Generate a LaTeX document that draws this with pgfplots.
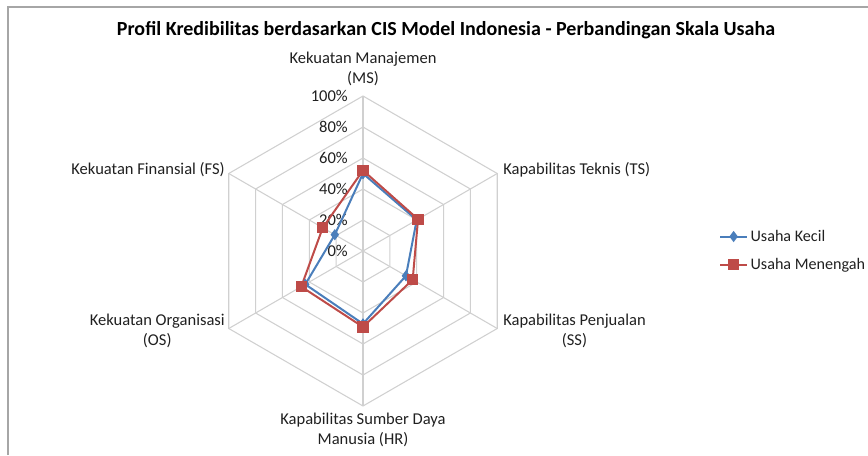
\documentclass[border=0pt]{standalone}
\usepackage{pgfplots}
\pgfplotsset{compat=1.18}
\usepackage{pgfplotstable}
\usepackage{fontspec}
\setmainfont{Carlito}
\definecolor{kecil}{HTML}{4A7EBB}
\definecolor{menengah}{HTML}{BE4B48}
\definecolor{gridc}{HTML}{D0D0D0}
\definecolor{framec}{HTML}{A6A6A6}
\definecolor{txt}{HTML}{202020}

% angle (deg), value (%)
\pgfplotstableread{
a r
90 50
30 40
-30 32
-90 47
-150 43
150 21
90 50
}\kecil
\pgfplotstableread{
a r
90 52
30 41
-30 37
-90 49
-150 46
150 30
90 52
}\menengah

\newcommand{\lbl}{\fontsize{12.4}{14.4}\selectfont}
\begin{document}
\begin{tikzpicture}
\begin{axis}[
  width=651pt, height=341.25pt, scale only axis,
  xmin=0, xmax=868, ymin=0, ymax=455,
  hide axis, clip=false,
  legend style={at={(axis cs:719,228)}, anchor=north west, draw=none, fill=none,
    inner sep=0pt, font=\fontsize{12.1}{14}\selectfont, text=txt, row sep=7.3pt,
    /tikz/every even column/.append style={column sep=2pt}},
  legend cell align=left,
  legend image code/.code={\draw[mark repeat=2,mark phase=2] plot coordinates {(0pt,0pt)(10pt,0pt)(20pt,0pt)};},
]
% frame (cropped at right and bottom)
\draw[framec, line width=1pt] (axis cs:8,0) -- (axis cs:8,448) -- (axis cs:868,448);
% hexagonal grid
\pgfplotsinvokeforeach{20,40,60,80,100}{
  \draw[gridc, line width=0.8pt]
    (axis cs:{363+1.55*#1*cos(90)},{204+1.55*#1*sin(90)}) --
    (axis cs:{363+1.55*#1*cos(30)},{204+1.55*#1*sin(30)}) --
    (axis cs:{363+1.55*#1*cos(-30)},{204+1.55*#1*sin(-30)}) --
    (axis cs:{363+1.55*#1*cos(-90)},{204+1.55*#1*sin(-90)}) --
    (axis cs:{363+1.55*#1*cos(-150)},{204+1.55*#1*sin(-150)}) --
    (axis cs:{363+1.55*#1*cos(150)},{204+1.55*#1*sin(150)}) -- cycle;
}
\pgfplotsinvokeforeach{90,30,-30,-90,-150,150}{
  \draw[gridc, line width=0.8pt] (axis cs:363,204) -- (axis cs:{363+155*cos(#1)},{204+155*sin(#1)});
}
% tick labels
\pgfplotsinvokeforeach{0,20,40,60,80,100}{
  \node[anchor=east, inner sep=0pt, font=\lbl, text=txt] at (axis cs:348,{204+1.55*#1}) {#1\%};
}
% category labels
\node[align=center, font=\lbl, text=txt, inner sep=0pt] at (axis cs:363,386) {Kekuatan Manajemen\\(MS)};
\node[anchor=west, font=\lbl, text=txt, inner sep=0pt] at (axis cs:503,285) {Kapabilitas Teknis (TS)};
\node[anchor=west, align=center, font=\lbl, text=txt, inner sep=0pt] at (axis cs:503,124) {Kapabilitas Penjualan\\(SS)};
\node[align=center, font=\lbl, text=txt, inner sep=0pt] at (axis cs:363,25) {Kapabilitas Sumber Daya\\Manusia (HR)};
\node[anchor=east, align=center, font=\lbl, text=txt, inner sep=0pt] at (axis cs:225,124) {Kekuatan Organisasi\\(OS)};
\node[anchor=east, font=\lbl, text=txt, inner sep=0pt] at (axis cs:225,285) {Kekuatan Finansial (FS)};
% title
\node[font=\fontsize{15}{18}\selectfont\bfseries, inner sep=0pt] at (axis cs:446,425) {Profil Kredibilitas berdasarkan CIS Model Indonesia - Perbandingan Skala Usaha};
% series
\addplot[kecil, line width=1.5pt, mark=diamond*, mark size=3pt, mark options={solid, fill=kecil}]
  table[x expr={363+1.55*\thisrow{r}*cos(\thisrow{a})}, y expr={204+1.55*\thisrow{r}*sin(\thisrow{a})}] {\kecil};
\addlegendentry{Usaha Kecil}
\addplot[menengah, line width=1.5pt, mark=square*, mark size=3.5pt, mark options={solid, fill=menengah}]
  table[x expr={363+1.55*\thisrow{r}*cos(\thisrow{a})}, y expr={204+1.55*\thisrow{r}*sin(\thisrow{a})}] {\menengah};
\addlegendentry{Usaha Menengah}
\end{axis}
\pgfresetboundingbox
\path[use as bounding box] (current axis.south west) rectangle (current axis.north east);
\end{tikzpicture}
\end{document}
